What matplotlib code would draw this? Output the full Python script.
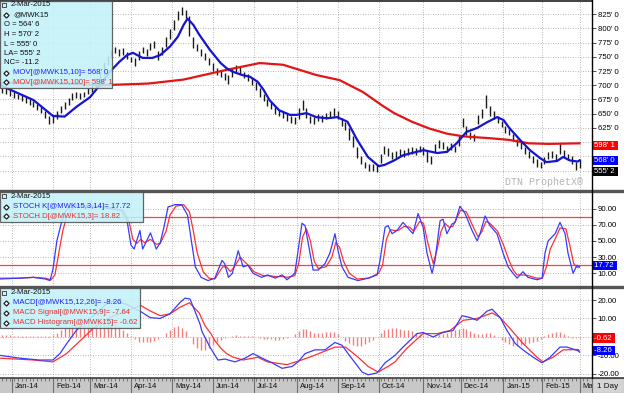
import matplotlib
matplotlib.use("Agg")
import matplotlib.pyplot as plt
from matplotlib.lines import Line2D
from matplotlib.patches import Rectangle
import numpy as np

plt.rcParams['font.family'] = ['Liberation Sans', 'DejaVu Sans']

# trading-day index, Jan 2 2014 = 0
month_day = [0, 21, 40, 61, 82, 103, 124, 146, 167, 188, 211, 230, 252, 272, 291]
month_lbl = ['Jan-14', 'Feb-14', 'Mar-14', 'Apr-14', 'May-14', 'Jun-14', 'Jul-14', 'Aug-14',
             'Sep-14', 'Oct-14', 'Nov-14', 'Dec-14', 'Jan-15', 'Feb-15', 'Ma']

# price bars, one every 2 trading days (d = -5 .. 291)
bar_hi = [697, 695, 691, 688, 685, 682, 679, 676, 672, 667,
          662, 655, 646, 647, 655, 664, 671, 678, 686, 689,
          687, 689, 696, 702, 712, 724, 740, 752, 762, 767,
          764, 765, 758, 750, 748, 760, 767, 764, 774, 778,
          760, 768, 784, 798, 815, 830, 838, 832, 822, 784,
          772, 764, 756, 748, 739, 730, 726, 722, 718, 730,
          736, 732, 724, 719, 712, 705, 695, 684, 676, 670,
          661, 657, 654, 650, 646, 645, 660, 674, 660, 646,
          644, 650, 648, 652, 654, 660, 654, 642, 636, 625,
          610, 592, 575, 566, 562, 561, 560, 580, 594, 590,
          582, 584, 588, 586, 590, 592, 590, 594, 591, 584,
          575, 597, 604, 600, 594, 598, 594, 612, 642, 628,
          618, 614, 648, 658, 682, 664, 654, 646, 638, 628,
          624, 614, 606, 600, 592, 584, 576, 570, 566, 574,
          582, 584, 580, 598, 586, 580, 576, 566, 570.25]
bar_lo = [687, 685, 681, 677, 675, 672, 669, 665, 662, 657,
          651, 643, 632, 634, 641, 652, 659, 666, 674, 678,
          675, 679, 684, 689, 696, 704, 718, 736, 748, 756,
          752, 754, 746, 740, 734, 744, 756, 752, 762, 766,
          745, 753, 768, 782, 797, 814, 823, 818, 786, 766,
          760, 751, 744, 735, 725, 718, 714, 709, 702, 715,
          724, 720, 712, 708, 700, 691, 680, 672, 664, 658,
          650, 646, 642, 638, 634, 632, 640, 656, 642, 634,
          632, 638, 636, 640, 642, 646, 640, 628, 622, 604,
          592, 572, 561, 554, 550, 549, 548, 563, 580, 576,
          570, 572, 576, 574, 578, 580, 578, 582, 578, 566,
          562, 582, 590, 588, 582, 586, 582, 594, 626, 612,
          606, 602, 632, 642, 660, 646, 640, 634, 626, 616,
          612, 602, 594, 588, 580, 572, 564, 557, 554, 562,
          570, 572, 568, 580, 574, 568, 562, 552, 555]

ma10_day = [-6, 11, 21, 27, 33, 40, 45, 50, 55, 59, 62, 67, 72, 76, 81, 85, 88, 90, 93, 96,
            101.5, 107, 110, 113, 118, 122, 126, 129, 132, 137, 142.5, 146, 151, 156, 161.5,
            166.7, 172, 177, 182.5, 188, 191, 196, 200.5, 211, 218, 223, 228, 233, 238.5,
            243.6, 248.7, 252, 255, 260.5, 265.6, 270.8, 274, 279.5, 282.6, 286, 290, 291]
ma10_val = [700, 674, 646, 645, 662, 679, 700, 723, 741, 753, 757, 748, 748, 753, 768, 785,
            806, 817, 806, 789, 762, 739, 730, 724, 718, 715, 706, 692, 674, 656, 648, 648,
            651, 644, 642, 644, 636, 604, 574, 558, 560, 568, 577, 586, 581, 583, 598, 618,
            625, 635, 644, 639, 625, 604, 586, 572, 565, 567, 574, 568, 566, 568]

ma100_day = [-6, 30, 45, 70, 88, 110, 127, 139, 156, 168, 180, 190, 196, 205, 214, 223,
             232, 245, 255, 265, 275, 291]
ma100_val = [704, 703, 700, 703, 710, 727, 739, 736, 718, 709, 688, 664, 651, 636, 624, 615,
             610, 607, 604, 598, 597, 598]

k_day = [-6, 4, 11, 17, 19.5, 21, 23, 25.6, 27.7, 32, 40, 50, 56, 59, 61, 62.6, 65.6, 67, 71, 74,
         76, 78, 80, 83.6, 87, 90, 92, 94, 97, 100.5, 104, 107.7, 109, 111, 113, 116, 118.5, 121,
         123.6, 128, 131, 135, 138.5, 141, 145, 146.7, 148.7, 150.3, 152.8, 154.4, 157, 160.5,
         163, 165.6, 167.2, 169.2, 172.3, 177.4, 182.6, 187.2, 188.7, 191.3, 192.8, 194.9, 197.4,
         200.5, 204.1, 205.6, 208.2, 210.8, 212.8, 215.4, 216.9, 219.5, 221, 223, 225.6, 227.2,
         229.7, 232.3, 235.9, 238.5, 240, 242.6, 245.1, 248.7, 251.8, 254.4, 256.9, 259, 262,
         264.6, 269.2, 271.8, 273.3, 274.9, 278.5, 281, 283.6, 285.1, 287.7, 289.7, 291]
k_val = [3, 4, 5, 3, 1, 15, 50, 75, 88, 95, 93, 90, 88, 75, 45, 40, 63, 40, 60, 40,
         48, 68, 92, 95, 95, 82, 50, 18, 5, 1, 4, 26, 22, 5, 10, 38, 18, 20, 10, 5,
         8, 4, 8, 2, 10, 38, 72, 69, 35, 14, 14, 22, 35, 59, 38, 18, 5, 1, 4, 8,
         26, 67, 69, 59, 63, 73, 63, 59, 84, 67, 35, 10, 26, 75, 77, 59, 71, 73, 93, 84,
         63, 50, 59, 81, 69, 59, 35, 18, 10, 4, 12, 5, 2, 4, 35, 50, 59, 73, 59, 35,
         10, 20, 17.72]

d_day = [-6, 4, 11, 17, 20, 22, 24, 26, 28, 32, 40, 50, 57, 60, 62, 64, 66, 68, 71, 74,
         76, 79, 81, 84, 88, 91, 93, 95, 98, 101, 104, 108, 110, 112, 114, 117, 119, 122, 124, 129,
         132, 135, 139, 141, 145, 147, 149, 151, 153, 155, 157, 161, 164, 166, 168, 170, 173, 177,
         183, 188, 190, 192, 194, 196, 198, 201, 204, 206, 209, 211, 213, 216, 218, 220, 222, 224,
         226, 228, 230, 233, 236, 239, 241, 243, 245, 249, 252, 255, 257, 259, 262, 265, 269, 272,
         274, 276, 279, 281, 284, 286, 288, 290, 291]
d_val = [4, 4, 5, 4, 2, 8, 35, 62, 80, 93, 94, 91, 88, 74, 52, 47, 52, 48, 52, 46,
         47, 62, 82, 93, 95, 86, 62, 35, 12, 4, 3, 18, 18, 12, 18, 30, 25, 18, 12, 7,
         7, 6, 6, 5, 7, 22, 55, 65, 50, 25, 16, 18, 30, 48, 42, 25, 10, 3, 4, 10,
         20, 52, 64, 63, 63, 68, 67, 62, 74, 72, 50, 22, 40, 62, 72, 67, 68, 78, 88, 86,
         70, 55, 62, 74, 72, 62, 45, 25, 14, 8, 8, 7, 4, 4, 18, 40, 55, 66, 65, 45,
         22, 17, 18.82]

macd_day = [-6, 4, 14, 21, 24.6, 28, 33, 38.5, 43.6, 50, 58, 65.6, 70.8, 75.9, 81, 86, 88.7,
            91.3, 93.8, 96.4, 97.4, 101.5, 105.6, 109.2, 114.4, 119.5, 123.6, 128.2, 133.3,
            138.5, 143.6, 146.7, 150.3, 155.4, 160.5, 165.6, 169.2, 172.3, 175.9, 179.5, 182.6,
            187.2, 191.3, 196.4, 200.5, 207.7, 210.8, 215.9, 221, 226.2, 230.8, 234.9, 238.5,
            243.6, 246.2, 250.3, 253.8, 258, 262, 267.2, 271.8, 275.9, 281, 284.6, 290.3, 291]
macd_val = [-10, -11.5, -12.5, -12.5, -9, -3.7, 3.5, 9, 13, 19.5, 18, 14, 10.5, 10, 12.5, 18.5,
            21, 20.5, 14, 7, 3, -5.5, -12.5, -12, -13.5, -11.5, -9, -11.5, -14, -17, -16, -13.5,
            -9, -7, -7, -3, -4.5, -9, -14, -19, -20.5, -19.5, -14, -10, -5.5, 1.8, 2.4, 0, 2.4,
            3.5, 11.5, 10.5, 9, 14, 15, 10.5, 3.5, -3.5, -7, -11, -14, -11, -5.5, -5.5, -7.5, -8.26]

sig_day = [-6, 11, 21, 28, 35, 41.5, 50, 66, 71, 76, 81, 86, 91, 96, 99, 102, 104, 107, 110,
           113.5, 118.5, 126, 131, 141, 148.5, 155, 165.6, 171, 177.5, 182.6, 187.7, 192.8,
           196.4, 202.6, 210.8, 218, 224.6, 231.3, 238.5, 246.2, 250.3, 255.4, 262, 269.2,
           272.3, 277.4, 282.6, 290.3, 291]
sig_val = [-11.5, -12.5, -13.5, -9, -2, 4.5, 10.5, 17, 14, 11.5, 12.5, 16, 18.5, 13, 6, 1.8,
           -2, -6, -9, -11, -12.5, -11, -13.5, -15, -12.5, -10, -5.5, -5.5, -11, -16, -19, -16,
           -13.5, -6, 1.8, 1.8, 3.5, 9, 10, 13, 10.5, 4.5, -3.5, -11, -13.5, -11, -7, -6.8, -7.64]

# histogram, same 2-day spacing as the bars
hist = [1, 1, 1, 0.5, 0.5, 0.5, 0.5, 0.5, 0.5, 0.5,
        0.5, 0.5, 0.3, 1, 2, 3.5, 5, 6, 7, 7.5,
        7.5, 7.5, 8, 8, 8.5, 8.5, 8.5, 8.5, 8, 7,
        5.5, 4, 2, 0.5, -1, -2.5, -3, -3, -2.5, -2,
        -1, 0, 2, 4, 5.5, 6, 5, 3, 0, -4,
        -6, -7, -7, -6, -4.5, -3, -1.5, -0.5, 0, 0.5,
        1, 0.5, 0.5, 0.5, 0.5, 0, -0.5, -1, -1, -1,
        -1.5, -1.5, -1, -0.5, 0, 1.5, 3, 4.5, 4.5, 3,
        2, 2, 2, 2.5, 2.5, 2.5, 1.5, 0, -2, -3.5,
        -4.5, -5, -5, -4, -3, -1.5, 0, 2, 3.5, 4.5,
        5, 5, 4.5, 4, 3.5, 3, 2, 1.5, 1, 0.5,
        0, 0.5, 1, 1.5, 2, 3, 4, 4.5, 5, 4.5,
        3, 2, 1.5, 1.5, 2, 2, 1, 0, -1.5, -3,
        -4, -5, -5, -4.5, -4, -3.5, -3, -2, -1, 0.5,
        1.5, 2, 2.5, 2.5, 1.5, 0.5, -0.5, -0.5, -0.62]

bar_day = np.arange(-5, 292, 2)

W, H = 624.0, 393.0
FS = 5.6
XL = (-6.15, 297.4)
BLUE = '#1414d2'
RED = '#e41414'


def rect(x0, y0, x1, y1):
    return [x0 / W, 1 - y1 / H, (x1 - x0) / W, (y1 - y0) / H]


fig = plt.figure(figsize=(6.24, 3.93), dpi=100)
ax1 = fig.add_axes(rect(0, 1, 592, 190))
ax2 = fig.add_axes(rect(0, 192, 592, 286))
ax3 = fig.add_axes(rect(0, 288, 592, 377))
axd = fig.add_axes(rect(0, 378, 592, 393))
axr = fig.add_axes(rect(592, 378, 624, 393))

grid_kw = dict(color='#a0a0a0', lw=0.6, ls=(0, (1, 2)), zorder=0)


def setup(ax, ylim, grid, ticks, labels):
    ax.set_xlim(*XL)
    ax.set_ylim(*ylim)
    for s in ax.spines.values():
        s.set_visible(False)
    ax.set_xticks([])
    ax.yaxis.tick_right()
    ax.set_yticks(ticks)
    ax.set_yticklabels(labels)
    ax.tick_params(axis='y', length=3, width=0.6, pad=1, labelsize=FS, color='#333333')
    for d in month_day:
        ax.axvline(d, **grid_kw)
    for t in grid:
        ax.axhline(t, **grid_kw)


def value_box(ax, txt, val, color, dy=0):
    ax.annotate(txt, xy=(1.0, val), xycoords=ax.get_yaxis_transform(),
                xytext=(1.2, dy), textcoords='offset points', ha='left', va='center',
                fontsize=FS, color='white', zorder=10, annotation_clip=False,
                bbox=dict(boxstyle='square,pad=0.14', fc=color, ec='none'))


# price panel (labels hidden behind the value boxes are left out)
price_grid = list(range(550, 826, 25))
price_lab = list(range(625, 826, 25))
setup(ax1, (516, 848), price_grid, price_lab, ["%d' 0" % t for t in price_lab])
ax1.vlines(bar_day, bar_lo, bar_hi, color='#1a1a1a', lw=1.0, zorder=2)
ax1.plot(ma100_day, ma100_val, color=RED, lw=1.6, zorder=3)
ax1.plot(ma10_day, ma10_val, color=BLUE, lw=1.6, zorder=4)
ax1.text(583 / 592, 0.04, 'DTN ProphetX\u00ae', transform=ax1.transAxes, ha='right',
         va='center', fontsize=7.2, color='#b4b4b4', family='Liberation Mono')
value_box(ax1, "598' 1 ", 598.1, '#ff0000', -1.5)
value_box(ax1, "568' 0 ", 568.0, '#0000ff', 0)
value_box(ax1, "555' 2 ", 555.25, '#000000', -2.5)

# stochastic panel
st_ticks = [10, 30, 50, 70, 90]
setup(ax2, (-5.7, 110.6), st_ticks, st_ticks, ['%.2f' % t for t in st_ticks])
ax2.axhline(80, color='#ff4040', lw=0.9, zorder=1)
ax2.axhline(20, color='#ff4040', lw=0.9, zorder=1)
ax2.plot(d_day, d_val, color='#ff3030', lw=0.9, zorder=3)
ax2.plot(k_day, k_val, color='#3a3aff', lw=0.9, zorder=4)
value_box(ax2, '17.72 ', 17.72, '#0000ff', 1)

# MACD panel
m_grid = [-20, -10, 0, 10, 20]
m_lab = [-20, -10, 10, 20]
setup(ax3, (-21.7, 26.5), m_grid, m_lab, ['%.2f' % t for t in m_lab])
ax3.vlines(bar_day, 0, hist, color='#f08080', lw=1.0, zorder=2)
ax3.plot(sig_day, sig_val, color='#ff3030', lw=0.9, zorder=3)
ax3.plot(macd_day, macd_val, color='#3a3aff', lw=0.9, zorder=4)
value_box(ax3, '-0.62 ', -0.62, '#ff0000')
value_box(ax3, '-8.26 ', -8.26, '#0000ff', 1)

# date bar
axd.set_facecolor('#c8c8c8')
axd.set_xlim(*XL)
axd.set_ylim(0, 1)
axd.set_xticks([])
axd.set_yticks([])
for s in axd.spines.values():
    s.set_visible(False)
axd.vlines(np.arange(-5, 297, 2), 0.8, 1, color='#555555', lw=0.5)
for d, lbl in zip(month_day, month_lbl):
    axd.axvline(d, color='#6e6e6e', lw=0.8)
    axd.text(d + 1.6, 0.42, lbl, fontsize=FS, va='center', ha='left', color='#111111',
             clip_on=True)

axr.set_facecolor('#d4d4d4')
axr.set_xticks([])
axr.set_yticks([])
for s in axr.spines.values():
    s.set_color('#707070')
    s.set_linewidth(0.8)
axr.text(0.5, 0.45, '1 Day', transform=axr.transAxes, ha='center', va='center',
         fontsize=FS + 0.3, color='#111111')


# frame lines
def fline(x0, y0, x1, y1, color, lw):
    fig.add_artist(Line2D([x0 / W, x1 / W], [1 - y0 / H, 1 - y1 / H], color=color, lw=lw,
                          transform=fig.transFigure, zorder=6))


fline(0, 0.7, 592, 0.7, '#404040', 1.4)
fline(0, 190.8, 624, 190.8, '#555555', 2.4)
fline(0, 287, 624, 287, '#555555', 2.4)
fline(0, 377.5, 624, 377.5, '#404040', 1.2)
fline(592, 0, 592, 378, '#000000', 1.0)


# legend boxes
def legend_box(x1, y0, y1, rows):
    fig.add_artist(Rectangle((0, 1 - y1 / H), x1 / W, (y1 - y0) / H, transform=fig.transFigure,
                             fc='#c2f1f9', ec='#505050', lw=0.9, alpha=0.88, zorder=7))
    for y, txt, color, icon in rows:
        if icon == 'date':
            fig.add_artist(Line2D([4 / W], [1 - y / H], marker='s', ms=3.2, mfc='#e8e8e8',
                                  mec='#333333', mew=0.6, transform=fig.transFigure, zorder=8))
            x = 11
        elif icon == 'dia':
            fig.add_artist(Line2D([6 / W], [1 - y / H], marker='D', ms=2.6, mfc='white',
                                  mec='#222222', mew=0.9, transform=fig.transFigure, zorder=8))
            x = 13
        else:
            x = 4
        fig.text(x / W, 1 - y / H, txt, fontsize=FS, color=color, va='center', ha='left',
                 zorder=9)


legend_box(112, 1, 88, [
    (5, '2-Mar-2015', '#111111', 'date'),
    (15, '@MWK15', '#111111', 'dia'),
    (25, "O = 564' 6", '#111111', None),
    (34.5, "H = 570' 2", '#111111', None),
    (44, "L = 555' 0", '#111111', None),
    (53.5, "LA= 555' 2", '#111111', None),
    (63, 'NC= -11.2', '#111111', None),
    (72.5, "MOV[@MWK15,10]= 568' 0", '#2222ff', 'dia'),
    (82, "MOV[@MWK15,100]= 598' 1", '#e83030', 'dia'),
])
legend_box(143, 192, 222, [
    (196, '2-Mar-2015', '#111111', 'date'),
    (206.5, 'STOCH K[@MWK15,3,14]= 17.72', '#2222ff', 'dia'),
    (216, 'STOCH D[@MWK15,3]= 18.82', '#e83030', 'dia'),
])
legend_box(140, 288, 328, [
    (292.5, '2-Mar-2015', '#111111', 'date'),
    (303, 'MACD[@MWK15,12,26]= -8.26', '#2222ff', 'dia'),
    (313, 'MACD Signal[@MWK15,9]= -7.64', '#e83030', 'dia'),
    (322.5, 'MACD Histogram[@MWK15]= -0.62', '#e83030', 'dia'),
])

fig.savefig('out.png', dpi=100)
